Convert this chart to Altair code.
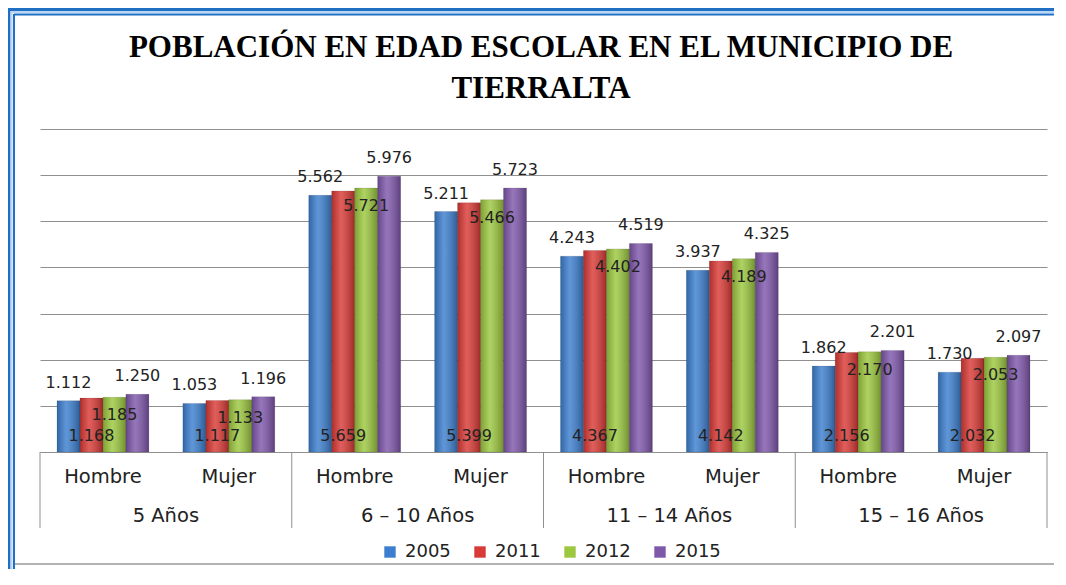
import altair as alt
import pandas as pd

# ---- data ----
groups = ["5 Años", "6 – 10 Años", "11 – 14 Años", "15 – 16 Años"]
sexes = ["Hombre", "Mujer"]
years = ["2005", "2011", "2012", "2015"]
v2005 = [1112, 1053, 5562, 5211, 4243, 3937, 1862, 1730]
v2011 = [1168, 1117, 5659, 5399, 4367, 4142, 2156, 2032]
v2012 = [1185, 1133, 5721, 5466, 4402, 4189, 2170, 2053]
v2015 = [1250, 1196, 5976, 5723, 4519, 4325, 2201, 2097]
colors = ["#3c7fcf", "#d93a36", "#9cc83f", "#7f57ab"]
title_lines = ["POBLACIÓN EN EDAD ESCOLAR EN EL MUNICIPIO DE", "TIERRALTA"]

cats = [f"{g}|{s}" for g in groups for s in sexes]
series = {"2005": v2005, "2011": v2011, "2012": v2012, "2015": v2015}
rows = []
for y in years:
    for c, v in zip(cats, series[y]):
        rows.append({"cat": c, "year": y, "value": v,
                     "label": f"{v:,}".replace(",", ".")})
df = pd.DataFrame(rows)

grp_df = pd.DataFrame({"group": groups, "pos": [1, 3, 5, 7]})
div_df = pd.DataFrame({"pos": [0, 2, 4, 6, 8]})

W, H = 1007, 323
FONT = "DejaVu Sans"
GRID = "#8f8f8f"

x_scale = alt.Scale(domain=cats, paddingInner=0.27, paddingOuter=0.135)
x_axis = alt.X("cat:N", sort=cats, scale=x_scale,
               axis=alt.Axis(title=None, labelAngle=0, ticks=False,
                             labelExpr="split(datum.value, '|')[1]",
                             labelFont=FONT, labelFontSize=19.5, labelColor="#222222",
                             labelPadding=15, domainColor=GRID, domainWidth=1))
x_noaxis = alt.X("cat:N", sort=cats, scale=x_scale, axis=None)
xo_enc = alt.XOffset("year:N", sort=years,
                     scale=alt.Scale(domain=years, paddingInner=0, paddingOuter=0))
y_scale = alt.Scale(domain=[0, 7000], nice=False)
y_axis_def = alt.Axis(title=None, labels=False, ticks=False, domain=False,
                      grid=True, gridColor=GRID, gridWidth=1,
                      values=list(range(0, 7001, 1000)))
y_enc = alt.Y("value:Q", scale=y_scale, axis=y_axis_def)

base = alt.Chart(df)

bars = base.mark_bar(stroke="#00000030", strokeWidth=0.6).encode(
    x=x_axis, xOffset=xo_enc, y=y_enc,
    color=alt.Color("year:N", sort=years,
                    scale=alt.Scale(domain=years, range=colors),
                    legend=alt.Legend(orient="none", legendX=341, legendY=414,
                                      direction="horizontal", title=None,
                                      labelFont=FONT, labelFontSize=18,
                                      labelColor="#222222",
                                      symbolType="square", symbolSize=130,
                                      symbolStrokeWidth=0, columnPadding=20,
                                      labelOffset=6)))

shade = base.mark_bar(fill=alt.Gradient(
    gradient="linear", x1=0, x2=1, y1=0, y2=0,
    stops=[alt.GradientStop(color="rgba(0,0,0,0.20)", offset=0),
           alt.GradientStop(color="rgba(255,255,255,0.18)", offset=0.4),
           alt.GradientStop(color="rgba(0,0,0,0.28)", offset=1)])).encode(
    x=x_noaxis, xOffset=xo_enc, y=y_enc)

def lbl(year, dy, use_zero=False):
    ch = base.transform_filter(alt.datum.year == year).mark_text(
        font=FONT, fontSize=16, color="#222222", baseline="middle", dy=dy)
    enc = dict(x=x_noaxis, xOffset=xo_enc, text="label:N")
    enc["y"] = alt.datum(0, scale=y_scale, axis=y_axis_def) if use_zero else y_enc
    return ch.encode(**enc)

l2005 = lbl("2005", -18)
l2011 = lbl("2011", -16, use_zero=True)
l2012 = lbl("2012", 18)
l2015 = lbl("2015", -18)

xq = alt.X("pos:Q", scale=alt.Scale(domain=[0, 8], nice=False, zero=False), axis=None)
dividers = alt.Chart(div_df).mark_rule(color=GRID, strokeWidth=1).encode(
    x=xq, y=alt.value(H), y2=alt.value(H + 76))
grp_labels = alt.Chart(grp_df).mark_text(
    font=FONT, fontSize=19.5, color="#222222", baseline="middle").encode(
    x=xq, y=alt.value(H + 64), text="group:N")

def title_line(text, ypos):
    return alt.Chart(pd.DataFrame({"line": [text]})).mark_text(
        font="Liberation Serif", fontSize=31, fontWeight="bold", color="#000000",
        baseline="alphabetic", align="center").encode(
        x=alt.value(501), y=alt.value(ypos), text="line:N")

titles = [title_line(title_lines[0], -72), title_line(title_lines[1], -31)]

one = alt.Data(values=[{"a": 1}])
def rule(x, x2, y, y2, color, w):
    return alt.Chart(one).mark_rule(color=color, strokeWidth=w).encode(
        x=alt.value(x), x2=alt.value(x2), y=alt.value(y), y2=alt.value(y2))

frame = [
    rule(-31, -31, -121, 445, "#1f6fc5", 3),
    rule(-28.5, -28.5, -118, 445, "#b9d6f2", 2),
    rule(-26, -26, -115, 445, "#1f6fc5", 2),
    rule(-31, 1020, -119.5, -119.5, "#1f6fc5", 3),
    rule(-28.5, 1020, -117, -117, "#b9d6f2", 2),
    rule(-26, 1020, -114.5, -114.5, "#1f6fc5", 2),
    rule(-25, 1020, 435, 435, "#9a9a9a", 1.5),
]

chart = alt.layer(
    *frame, bars, shade, l2005, l2011, l2012, l2015, dividers, grp_labels, *titles
).resolve_scale(x="independent").properties(
    width=W, height=H,
    autosize=alt.AutoSizeParams(type="none"),
    padding={"left": 32, "top": 121, "right": 7, "bottom": 117},
    background="white",
).configure_view(stroke=None)

chart.save("out.html", embed_options={"renderer": "svg", "actions": False})
